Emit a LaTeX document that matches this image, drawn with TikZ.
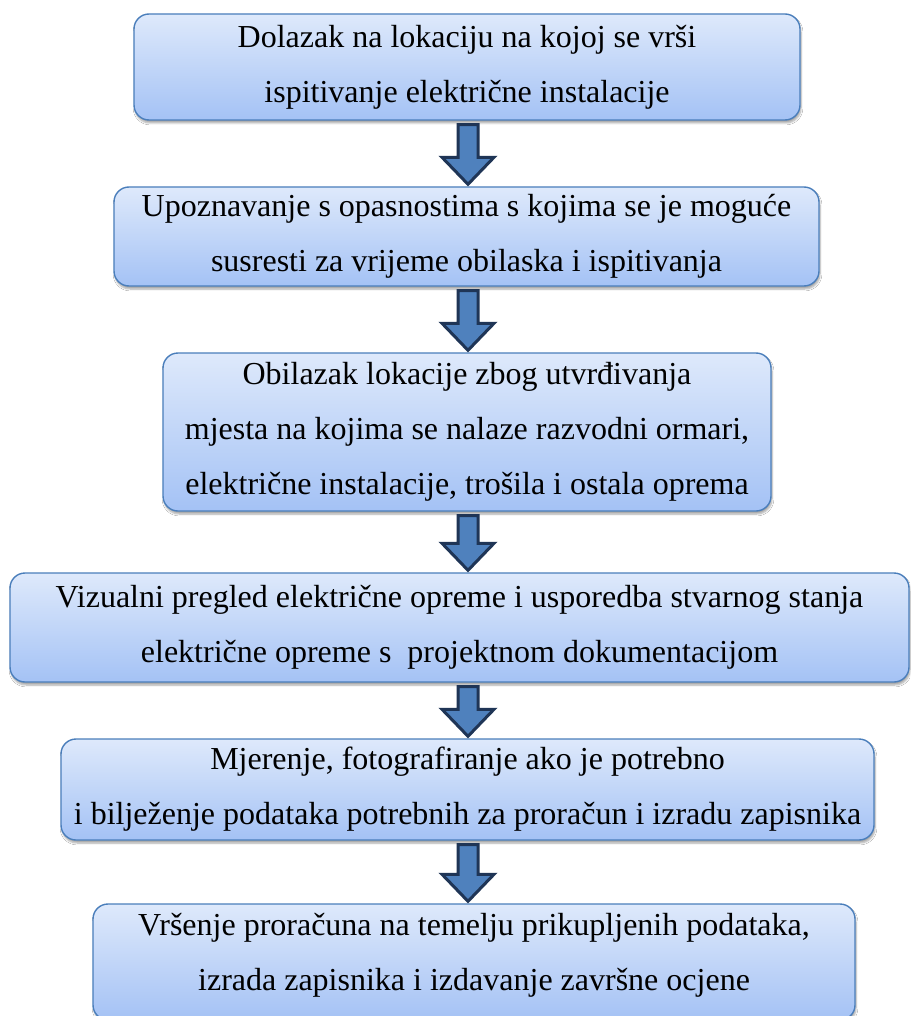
\documentclass[tikz,border=0pt]{standalone}
\usepackage{fontspec}
\setmainfont{Liberation Serif}
\usetikzlibrary{calc,shadows.blur}
\definecolor{boxtop}{HTML}{DEE9FB}
\definecolor{boxbot}{HTML}{A4C2F5}
\definecolor{boxline}{HTML}{4A7EBB}
\definecolor{arrowfill}{HTML}{4F81BD}
\definecolor{arrowline}{HTML}{1F3556}
\tikzset{
  flowbox/.style={rounded corners=15pt, draw=boxline, line width=1.4pt,
    top color=boxtop, bottom color=boxbot, align=center,
    font=\fontsize{32}{55}\selectfont, inner sep=0pt,
    blur shadow={shadow xshift=1pt, shadow yshift=-3pt, shadow blur steps=6, shadow opacity=35}},
  farrow/.style={fill=arrowfill, draw=arrowline, line width=3pt, line join=miter}
}
\newcommand\flowarrow[2]{%
  \draw[farrow] let \p1=(ax |- #1.south), \p2=(ax |- #2.north) in
  (\x1-10pt,\y1-4pt) -- (\x1+10pt,\y1-4pt) -- (\x1+10pt,\y2+29pt) --
  (\x1+26pt,\y2+29pt) -- (\x1,\y2+2pt) -- (\x1-26pt,\y2+29pt) --
  (\x1-10pt,\y2+29pt) -- cycle;}
\begin{document}
\begin{tikzpicture}[x=1pt,y=-1pt]
\useasboundingbox[fill=white] (0,0) rectangle (910,1016);
\coordinate (ax) at (468,0);
\node[flowbox, minimum width=666pt, minimum height=106pt] (b1) at (467,67)
  {Dolazak na lokaciju na kojoj se vrši\\ispitivanje električne instalacije};
\node[flowbox, minimum width=705pt, minimum height=99pt] (b2) at (466.5,236.5)
  {Upoznavanje s opasnostima s kojima se je moguće\\susresti za vrijeme obilaska i ispitivanja};
\node[flowbox, minimum width=608pt, minimum height=158pt] (b3) at (467,432)
  {Obilazak lokacije zbog utvrđivanja\\mjesta na kojima se nalaze razvodni ormari,\\električne instalacije, trošila i ostala oprema};
\node[flowbox, minimum width=899pt, minimum height=109pt] (b4) at (459.5,627.5)
  {Vizualni pregled električne opreme i usporedba stvarnog stanja\\električne opreme s\ \ projektnom dokumentacijom};
\node[flowbox, minimum width=813pt, minimum height=101pt] (b5) at (467.5,789.5)
  {Mjerenje, fotografiranje ako je potrebno\\i bilježenje podataka potrebnih za proračun i izradu zapisnika};
\node[flowbox, minimum width=762pt, minimum height=116pt, text depth=20pt] (b6) at (474,962)
  {Vršenje proračuna na temelju prikupljenih podataka,\\izrada zapisnika i izdavanje završne ocjene};
\flowarrow{b1}{b2}
\flowarrow{b2}{b3}
\flowarrow{b3}{b4}
\flowarrow{b4}{b5}
\flowarrow{b5}{b6}
\end{tikzpicture}
\end{document}
